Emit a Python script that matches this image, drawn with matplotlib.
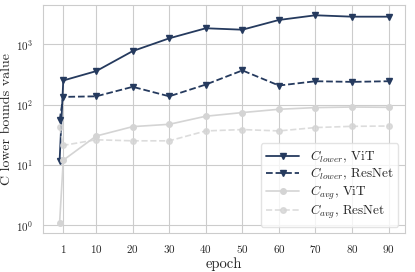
import matplotlib
matplotlib.use("Agg")
import matplotlib.pyplot as plt
import seaborn as sns

# epochs (0 = initialisation)
epochs = [0, 1, 10, 20, 30, 40, 50, 60, 70, 80, 90]
xticks = [1, 10, 20, 30, 40, 50, 60, 70, 80, 90]

c_lower_vit = [11.7, 251, 359, 773, 1260, 1850, 1750, 2540, 3040, 2880, 2880]
c_lower_resnet = [55, 134, 137, 197, 137, 215, 369, 207, 244, 238, 244]
c_avg_vit = [1.09, 11.9, 30, 43, 47, 64, 73.6, 83.5, 89, 91, 90]
c_avg_resnet = [42, 21, 26, 25, 25, 36.5, 38.4, 36.5, 41.5, 43.5, 44]

sns.set_style("whitegrid")
plt.rcParams["font.family"] = "serif"
plt.rcParams["font.serif"] = ["cmr10", "DejaVu Serif"]
plt.rcParams["mathtext.fontset"] = "cm"
plt.rcParams["axes.formatter.use_mathtext"] = True

dark = "#253a5e"
light = "#d4d4d4"

fig, ax = plt.subplots(figsize=(4.15, 2.72), dpi=100)
fig.subplots_adjust(left=0.104, right=0.976, top=0.982, bottom=0.143)

ax.plot(epochs, c_lower_vit, color=dark, ls="-", marker="v", ms=5, lw=1.3,
        label=r"$C_{lower}$, ViT")
ax.plot(epochs, c_lower_resnet, color=dark, ls="--", marker="v", ms=5, lw=1.3,
        label=r"$C_{lower}$, ResNet")
ax.plot(epochs, c_avg_vit, color=light, ls="-", marker="o", ms=4, lw=1.2,
        label=r"$C_{avg}$, ViT")
ax.plot(epochs, c_avg_resnet, color=light, ls="--", marker="o", ms=4, lw=1.2,
        alpha=0.8, label=r"$C_{avg}$, ResNet")

ax.set_yscale("log")
ax.set_xticks(xticks)
ax.tick_params(labelsize=8)
ax.set_xlabel("epoch", fontsize=10.5, labelpad=2)
ax.set_ylabel("C lower bounds value", fontsize=10, labelpad=2)

leg = ax.legend(loc="lower right", fontsize=9.5, frameon=True, borderpad=0.4,
                handlelength=2.5, labelspacing=0.1)
leg.get_frame().set_edgecolor("#dddddd")

fig.savefig("out.png", dpi=100)
